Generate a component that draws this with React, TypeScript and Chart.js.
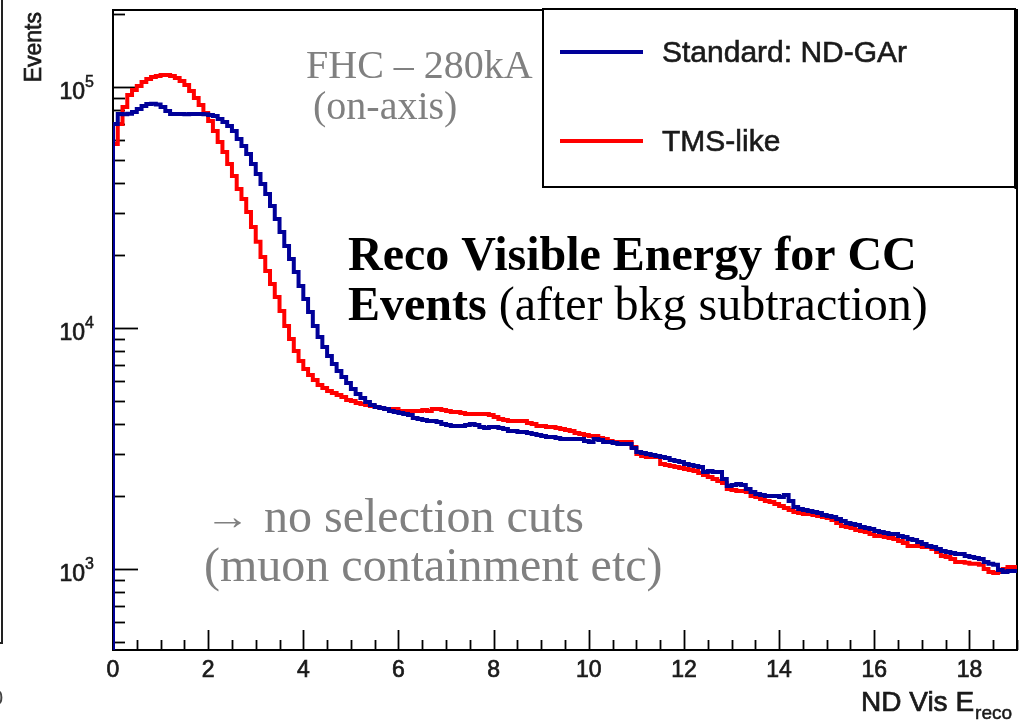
import React, { useEffect, useRef } from 'react';
import { Chart, registerables } from 'chart.js';

Chart.register(...registerables);

// ---------------- data ----------------
const BIN_WIDTH = 0.1; // GeV
const X_MIN = 0;
const X_MAX = 19;
const Y_MIN = 461;
const Y_MAX = 208700;

const SERIES_LABELS = ['Standard: ND-GAr', 'TMS-like'];
const SERIES_COLORS = ['#000099', '#ff0000'];

const STANDARD_ND_GAR = [
  62600, 70200, 77300, 77000, 77500, 78800, 81000, 83400, 85000, 85200,
  84500, 82600, 79500, 77300, 77200, 77300, 77100, 77300, 77200, 77300,
  77100, 76500, 75800, 73700, 71600, 68900, 65700, 60850, 56900, 52700,
  47900, 43500, 39600, 36000, 32100, 28340, 25020, 21890, 19330, 17080,
  14940, 13200, 11650, 10190, 9180, 8340, 7650, 7090, 6630, 6260,
  5910, 5583, 5322, 5120, 4930, 4790, 4700, 4656, 4611, 4524,
  4481, 4439, 4397, 4355, 4232, 4192, 4152, 4113, 4113, 4073,
  3997, 3959, 3921, 3921, 3921, 3959, 3997, 3959, 3884, 3847,
  3884, 3884, 3847, 3810, 3738, 3738, 3703, 3703, 3668, 3633,
  3598, 3564, 3530, 3530, 3497, 3463, 3463, 3463, 3463, 3463,
  3398, 3365, 3463, 3430, 3365, 3365, 3333, 3301, 3301, 3301,
  3178, 3058, 3029, 3000, 2972, 2944, 2916, 2888, 2833, 2806,
  2779, 2727, 2701, 2675, 2650, 2526, 2550, 2526, 2526, 2362,
  2210, 2231, 2252, 2231, 2147, 2087, 2047, 2028, 2008, 2008,
  2008, 1989, 2028, 1915, 1808, 1774, 1757, 1740, 1724, 1707,
  1675, 1659, 1643, 1612, 1582, 1552, 1537, 1523, 1494, 1480,
  1466, 1438, 1424, 1411, 1397, 1397, 1371, 1358, 1332, 1320,
  1295, 1270, 1246, 1234, 1211, 1188, 1177, 1166, 1155, 1155,
  1133, 1122, 1111, 1101, 1070, 1050, 1040, 991, 972, 981,
];

const TMS_LIKE = [
  51000, 58000, 70200, 82600, 92600, 97200, 101000, 104900, 108000, 110000,
  111000, 112100, 112100, 111000, 109000, 105900, 102000, 96200, 90000, 84200,
  78000, 72300, 65700, 59100, 53700, 47900, 42700, 37750, 34300, 30300,
  26250, 22800, 19700, 17250, 15220, 13460, 11760, 10190, 9002, 8030,
  7290, 6760, 6380, 6085, 5800, 5630, 5477, 5370, 5270, 5172,
  5027, 4978, 4884, 4837, 4791, 4746, 4700, 4656, 4611, 4611,
  4611, 4524, 4524, 4524, 4524, 4524, 4568, 4524, 4611, 4611,
  4568, 4524, 4481, 4481, 4439, 4397, 4397, 4397, 4397, 4397,
  4355, 4272, 4192, 4152, 4113, 4113, 4113, 4113, 4035, 3997,
  3921, 3921, 3884, 3884, 3847, 3810, 3774, 3738, 3668, 3633,
  3598, 3564, 3564, 3497, 3463, 3398, 3365, 3365, 3365, 3365,
  3208, 3000, 2944, 2916, 2916, 2916, 2727, 2701, 2675, 2650,
  2624, 2599, 2575, 2550, 2502, 2455, 2408, 2362, 2318, 2274,
  2147, 2127, 2107, 2107, 2087, 2008, 1989, 1952, 1915, 1896,
  1861, 1825, 1791, 1757, 1724, 1707, 1691, 1691, 1675, 1659,
  1643, 1628, 1597, 1552, 1508, 1494, 1480, 1452, 1438, 1424,
  1397, 1371, 1371, 1358, 1345, 1332, 1307, 1282, 1246, 1246,
  1246, 1234, 1234, 1211, 1177, 1133, 1122, 1101, 1070, 1070,
  1060, 1050, 1050, 1040, 1000, 972, 963, 972, 1000, 1020,
];

const X_TICK_VALUES = [0, 2, 4, 6, 8, 10, 12, 14, 16, 18];
const X_TICK_LABELS = ['0', '2', '4', '6', '8', '10', '12', '14', '16', '18'];
const Y_TICK_VALUES = [1000, 10000, 100000];
const Y_TICK_EXPONENTS = ['3', '4', '5'];

const Y_TITLE = 'Events';
const X_TITLE = 'ND Vis E';
const X_TITLE_SUB = 'reco';

const SANS = '"Liberation Sans", Arial, Helvetica, sans-serif';
const SERIF = '"Liberation Serif", "Times New Roman", serif';

// histogram as stepped points (left edge of each bin, closing point at the last edge)
function toSteps(values: number[]) {
  const pts: { x: number; y: number }[] = [{ x: 0, y: 1 }];
  values.forEach((v, i) => pts.push({ x: Math.round(i * BIN_WIDTH * 100) / 100, y: v }));
  pts.push({ x: Math.round(values.length * BIN_WIDTH * 100) / 100, y: values[values.length - 1] });
  return pts;
}

function heavyText(ctx: CanvasRenderingContext2D, s: string, x: number, y: number, color: string, sw = 0.7) {
  ctx.fillStyle = color;
  ctx.strokeStyle = color;
  ctx.lineWidth = sw;
  ctx.fillText(s, x, y);
  ctx.strokeText(s, x, y);
}

const rootStyle = {
  id: 'rootStyle',
  beforeDatasetsDraw(chart: any) {
    const { ctx, chartArea: a, scales } = chart;
    const xs = scales.x;
    const ys = scales.y;
    ctx.save();
    // left-edge fragment of neighbouring frame
    ctx.strokeStyle = '#222';
    ctx.lineWidth = 2;
    ctx.beginPath();
    ctx.moveTo(2, 0);
    ctx.lineTo(2, 643);
    ctx.lineTo(0, 643);
    ctx.stroke();

    // frame
    ctx.strokeStyle = '#000';
    ctx.lineWidth = 2;
    ctx.strokeRect(a.left, a.top, a.right - a.left, a.bottom - a.top);

    // y ticks (log, inward)
    ctx.lineWidth = 1.8;
    for (let d = 2; d <= 5; d++) {
      for (let k = 1; k <= 9; k++) {
        const v = k * Math.pow(10, d);
        if (v < Y_MIN || v > Y_MAX) continue;
        const py = Math.round(ys.getPixelForValue(v)) + 0.5;
        const len = k === 1 ? 25 : 12;
        ctx.beginPath();
        ctx.moveTo(a.left, py);
        ctx.lineTo(a.left + len, py);
        ctx.stroke();
      }
    }
    // x ticks (inward)
    for (let t = X_MIN; t <= X_MAX + 1e-6; t += 0.5) {
      const px = Math.round(xs.getPixelForValue(t)) + 0.5;
      const len = Math.abs(t % 2) < 1e-6 ? 20 : 10;
      ctx.beginPath();
      ctx.moveTo(px, a.bottom);
      ctx.lineTo(px, a.bottom - len);
      ctx.stroke();
    }
    ctx.restore();
  },
  afterDatasetsDraw(chart: any) {
    const { ctx, scales } = chart;
    const xs = scales.x;
    const ys = scales.y;
    ctx.save();
    const ink = '#1a1a1a';

    // x tick labels
    ctx.font = `23px ${SANS}`;
    ctx.textAlign = 'center';
    ctx.textBaseline = 'alphabetic';
    X_TICK_VALUES.forEach((v, i) => {
      heavyText(ctx, X_TICK_LABELS[i], xs.getPixelForValue(v), 677, ink);
    });

    // y tick labels 10^n
    Y_TICK_VALUES.forEach((v, i) => {
      const py = ys.getPixelForValue(v);
      ctx.font = `23px ${SANS}`;
      ctx.textAlign = 'right';
      heavyText(ctx, '10', 85, py + 12, ink);
      ctx.font = `16px ${SANS}`;
      ctx.textAlign = 'left';
      heavyText(ctx, Y_TICK_EXPONENTS[i], 85, py, ink, 0.5);
    });

    // y title
    ctx.save();
    ctx.font = `23px ${SANS}`;
    ctx.translate(41, 12);
    ctx.rotate(-Math.PI / 2);
    ctx.textAlign = 'right';
    heavyText(ctx, Y_TITLE, 0, 0, ink);
    ctx.restore();

    // x title with subscript
    ctx.font = `28px ${SANS}`;
    ctx.textAlign = 'left';
    heavyText(ctx, X_TITLE, 861, 711, ink);
    const w = ctx.measureText(X_TITLE).width;
    ctx.font = `19px ${SANS}`;
    heavyText(ctx, X_TITLE_SUB, 861 + w + 1, 719, ink, 0.5);

    // partial "0" fragment at left edge
    ctx.font = `22px ${SANS}`;
    ctx.fillStyle = '#444';
    ctx.fillText('0', -9, 705);

    // legend
    const lx = 543, ly = 9, lw = 472, lh = 178;
    ctx.fillStyle = '#fff';
    ctx.fillRect(lx, ly, lw, lh);
    ctx.strokeStyle = '#000';
    ctx.lineWidth = 2;
    ctx.strokeRect(lx, ly, lw, lh);
    ctx.lineWidth = 3;
    ctx.beginPath();
    ctx.moveTo(lx + lw + 1, ly + 2);
    ctx.lineTo(lx + lw + 1, ly + lh + 2);
    ctx.stroke();
    const entryY = [52, 141];
    chart.data.datasets.forEach((ds: any, i: number) => {
      ctx.strokeStyle = ds.borderColor;
      ctx.lineWidth = 4;
      ctx.beginPath();
      ctx.moveTo(560, entryY[i]);
      ctx.lineTo(643, entryY[i]);
      ctx.stroke();
      ctx.font = `30px ${SANS}`;
      ctx.textAlign = 'left';
      ctx.textBaseline = 'middle';
      heavyText(ctx, ds.label, 662, entryY[i] + 2, ink, 0.6);
    });
    ctx.textBaseline = 'alphabetic';

    // annotations
    ctx.fillStyle = '#808080';
    ctx.font = `40px ${SERIF}`;
    ctx.fillText('FHC \u2013 280kA', 306, 78);
    ctx.fillText('(on-axis)', 313, 119);

    ctx.fillStyle = '#000';
    ctx.font = `bold 48px ${SERIF}`;
    ctx.fillText('Reco Visible Energy for CC', 348, 270);
    ctx.fillText('Events', 348, 320);
    const ew = ctx.measureText('Events').width;
    ctx.font = `48px ${SERIF}`;
    ctx.fillText(' (after bkg subtraction)', 348 + ew, 320);

    // arrow, stretched to the reference's width
    ctx.fillStyle = '#808080';
    ctx.font = `34px ${SERIF}`;
    const m = ctx.measureText('\u2192');
    const bl = m.actualBoundingBoxLeft || 0;
    const br = m.actualBoundingBoxRight || 12;
    const gw = Math.max(4, bl + br);
    const sx = 29 / gw;
    ctx.save();
    ctx.translate(213 + bl * sx, 529);
    ctx.scale(sx, 1.1);
    ctx.fillText('\u2192', 0, 0);
    ctx.restore();
    ctx.font = `48px ${SERIF}`;
    ctx.fillText('no selection cuts', 264, 532);
    ctx.fillText('(muon containment etc)', 204, 581);

    ctx.restore();
  },
};

export default function App() {
  const ref = useRef<HTMLCanvasElement>(null);
  useEffect(() => {
    if (!ref.current) return;
    const chart = new Chart(ref.current, {
      type: 'line',
      data: {
        datasets: [
          {
            label: SERIES_LABELS[0],
            data: toSteps(STANDARD_ND_GAR),
            borderColor: SERIES_COLORS[0],
            backgroundColor: SERIES_COLORS[0],
            borderWidth: 4,
            stepped: 'after',
            pointRadius: 0,
            fill: false,
            borderJoinStyle: 'miter',
          },
          {
            label: SERIES_LABELS[1],
            data: toSteps(TMS_LIKE),
            borderColor: SERIES_COLORS[1],
            backgroundColor: SERIES_COLORS[1],
            borderWidth: 4,
            stepped: 'after',
            pointRadius: 0,
            fill: false,
            borderJoinStyle: 'miter',
          },
        ],
      },
      options: {
        animation: false,
        responsive: false,
        devicePixelRatio: 1,
        parsing: false,
        layout: { padding: { left: 113, right: 9, top: 10, bottom: 72 } },
        scales: {
          x: { type: 'linear', min: X_MIN, max: X_MAX, display: false },
          y: { type: 'logarithmic', min: Y_MIN, max: Y_MAX, display: false },
        },
        plugins: {
          legend: { display: false },
          tooltip: { enabled: false },
        },
      } as any,
      plugins: [rootStyle],
    });
    return () => chart.destroy();
  }, []);

  return (
    <div style={{ position: 'fixed', left: 0, top: 0, width: 1026, height: 722, background: '#fff' }}>
      <canvas ref={ref} width={1026} height={722} style={{ display: 'block' }} />
    </div>
  );
}
